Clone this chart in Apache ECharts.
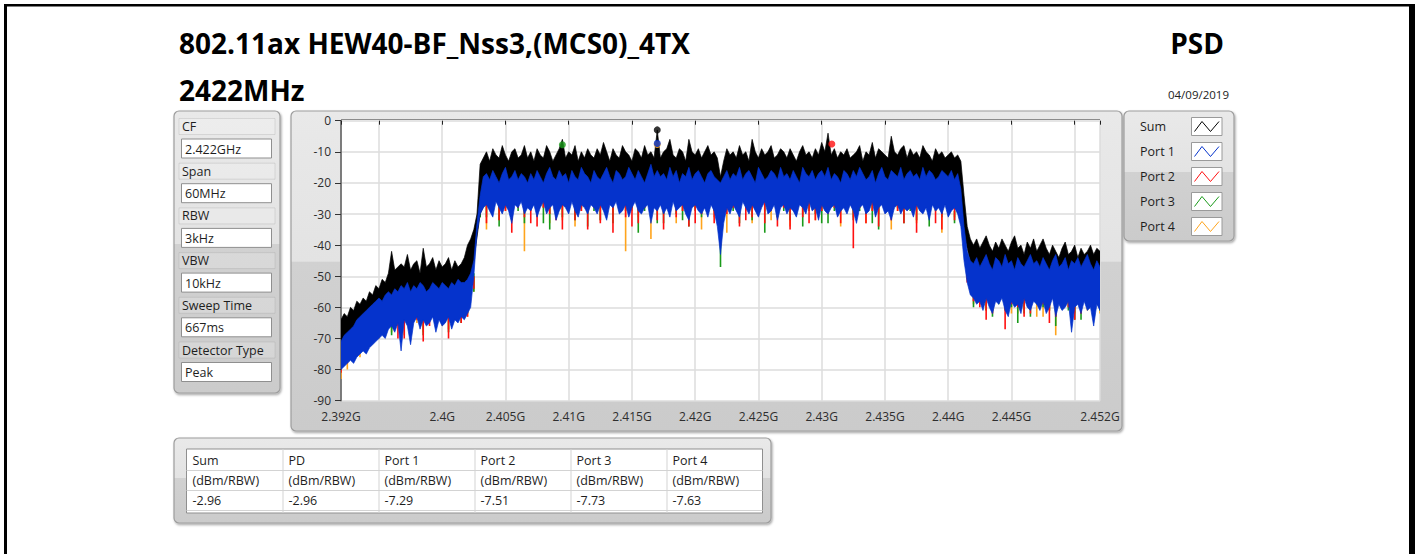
<!DOCTYPE html>
<html><head><meta charset="utf-8">
<script src="https://cdn.jsdelivr.net/npm/echarts@6/dist/echarts.min.js"></script>
<style>html,body{margin:0;padding:0;background:#fff;}#c{width:1415px;height:554px;}</style>
</head><body><div id="c"></div>
<script>
// ---------- DATA (dBm/RBW) ----------
const freqStartGHz = 2.392;
const step025 = 0.00025;  // 0.25 MHz sampling
const step05 = 0.0005;    // 0.5 MHz sampling
const step1 = 0.001;      // 1 MHz sampling

// Sum: upper envelope (0.25 MHz) and lower edge (1 MHz)
const sumUpper = [
-64,-62,-63,-60,-61,-58,-59,-57,-58,-55,-56,-53,-54,-51,-52,-49,-42,-48,-47,-46,
-47,-43,-48,-46,-45,-49,-41,-47,-46,-44,-48,-45,-47,-46,-44,-48,-45,-47,-46,-44,
-40,-38,-35,-30,-14,-12,-10,-13,-9,-11,-12,-8,-11,-13,-10,-9,-12,-11,-8,-12,
-10,-13,-9,-11,-12,-8,-10,-13,-11,-9,-6,-12,-10,-11,-8,-13,-10,-12,-9,-11,
-12,-9,-11,-7,-10,-13,-9,-11,-12,-8,-10,-11,-13,-9,-10,-12,-8,-11,-10,-12,
-2.96,-12,-10,-9,-6,-11,-12,-9,-10,-13,-6,-10,-11,-9,-12,-10,-8,-11,-10,-12,
-18,-13,-9,-11,-10,-12,-8,-11,-10,-13,-6,-10,-12,-9,-11,-10,-8,-12,-11,-9,
-10,-12,-9,-11,-13,-10,-8,-11,-10,-12,-9,-11,-7,-10,-4,-11,-9,-12,-10,-11,
-9,-12,-11,-10,-8,-13,-10,-11,-7,-12,-9,-10,-11,-12,-5,-10,-11,-9,-8,-12,
-9,-11,-10,-12,-8,-10,-11,-13,-9,-11,-10,-12,-11,-10,-12,-11,-13,-24,-34,-38,
-40,-38,-41,-39,-37,-40,-42,-39,-41,-38,-40,-42,-39,-37,-41,-40,-43,-39,-41,-38,
-42,-40,-38,-41,-43,-40,-42,-44,-41,-39,-43,-42,-40,-44,-41,-43,-42,-40,-43,-41,
-42];
const sumLower = [
-73,-71,-68,-66,-62,-59,-58,-58,-57,-57,-60,-30,
-21,-20,-22,-21,-20,-21,-22,-20,-21,-21,-20,-22,-21,-20,-21,-22,-20,-21,-21,-20,
-22,-21,-20,-21,-22,-20,-21,-21,-20,-22,-21,-20,-21,-22,-20,-21,-21,
-32,-50,-49,-51,-50,-49,-50,-51,-50,-49,-50,-51];

// Port 1: upper and lower envelopes (0.25 MHz)
const port1Upper = [
-71,-69,-68,-67,-66,-64,-63,-62,-61,-60,-59,-58,-57,-58,-56,-55,-56,-54,-55,-53,
-54,-52,-55,-53,-54,-52,-53,-55,-54,-52,-53,-54,-52,-53,-54,-52,-53,-51,-52,-52,
-51,-49,-45,-33,-24,-18,-17,-19,-16,-18,-20,-17,-15,-19,-18,-16,-19,-17,-18,-20,
-17,-19,-16,-18,-20,-17,-15,-18,-19,-16,-18,-17,-20,-16,-18,-19,-15,-17,-18,-20,
-16,-18,-19,-17,-15,-18,-20,-16,-17,-19,-18,-15,-17,-19,-16,-18,-20,-17,-14,-18,
-16,-18,-17,-19,-15,-18,-16,-20,-17,-18,-15,-19,-17,-16,-18,-20,-17,-16,-18,-19,
-20,-18,-16,-19,-17,-18,-15,-19,-17,-16,-18,-20,-15,-17,-19,-18,-16,-17,-19,-15,
-18,-17,-19,-16,-18,-20,-15,-17,-18,-16,-19,-17,-16,-18,-15,-19,-17,-18,-20,-16,
-17,-19,-16,-18,-15,-17,-19,-18,-16,-20,-17,-15,-18,-19,-16,-17,-18,-15,-19,-17,
-16,-18,-17,-19,-15,-18,-16,-17,-19,-18,-16,-17,-18,-16,-19,-17,-22,-34,-42,-45,
-46,-44,-47,-45,-43,-46,-48,-44,-45,-47,-43,-46,-45,-48,-44,-46,-47,-45,-43,-46,
-45,-47,-44,-46,-48,-45,-43,-47,-46,-44,-48,-45,-46,-44,-47,-45,-43,-46,-48,-45,
-47];
const port1Lower = [
-80,-79,-78,-77,-78,-76,-75,-74,-75,-73,-72,-71,-70,-69,-70,-67,-66,-68,-65,-74,
-64,-66,-72,-65,-63,-67,-64,-66,-65,-63,-68,-64,-66,-65,-63,-67,-64,-65,-63,-64,
-62,-60,-50,-36,-30,-28,-27,-29,-31,-26,-28,-30,-27,-29,-33,-27,-28,-26,-30,-28,
-29,-27,-31,-28,-26,-30,-28,-27,-32,-29,-27,-28,-30,-26,-29,-31,-27,-28,-30,-27,
-28,-30,-27,-29,-32,-27,-28,-26,-30,-29,-27,-31,-28,-26,-29,-30,-28,-27,-33,-28,
-29,-27,-30,-28,-31,-26,-29,-28,-27,-30,-32,-28,-27,-29,-30,-28,-31,-27,-29,-34,
-43,-33,-28,-30,-27,-29,-31,-26,-28,-30,-27,-29,-31,-28,-26,-30,-29,-27,-32,-28,
-27,-30,-28,-29,-31,-27,-28,-30,-26,-29,-28,-32,-27,-29,-30,-28,-27,-31,-29,-28,
-30,-27,-29,-33,-28,-27,-30,-29,-26,-31,-28,-27,-30,-29,-32,-28,-27,-30,-28,-29,
-28,-31,-27,-29,-30,-28,-32,-27,-29,-28,-30,-27,-31,-29,-28,-30,-34,-45,-52,-56,
-57,-59,-58,-61,-57,-60,-62,-58,-59,-57,-61,-63,-58,-60,-59,-62,-57,-60,-61,-58,
-59,-61,-58,-62,-60,-57,-63,-59,-61,-60,-58,-68,-60,-59,-62,-58,-61,-60,-66,-59,
-61];

// Ports 2-4: upper level (1 MHz) and downward excursions (0.5 MHz)
const port2Upper = [
-73,-70,-66,-62,-59,-57,-56,-56,-55,-55,-54,-26,
-21,-22,-20,-21,-22,-21,-20,-22,-21,-21,-22,-20,-21,-22,-21,-20,-21,-22,-21,-20,
-22,-21,-21,-20,-22,-21,-20,-21,-22,-21,-20,-21,-22,-21,-21,-20,-22,
-28,-47,-48,-46,-47,-48,-47,-46,-48,-47,-46,-48];
const port3Upper = [
-74,-71,-67,-63,-60,-58,-57,-56,-56,-55,-55,-27,
-22,-21,-21,-20,-22,-21,-22,-20,-21,-22,-21,-21,-20,-22,-21,-22,-20,-21,-21,-22,
-20,-21,-22,-21,-20,-22,-21,-21,-20,-22,-21,-22,-20,-21,-21,-22,-21,
-29,-48,-47,-47,-48,-46,-48,-47,-47,-46,-48,-47];
const port4Upper = [
-75,-71,-68,-63,-60,-58,-57,-57,-56,-56,-55,-27,
-21,-21,-22,-20,-21,-22,-21,-20,-22,-21,-21,-22,-20,-21,-22,-21,-21,-20,-22,-21,
-21,-22,-20,-21,-21,-22,-21,-20,-22,-21,-21,-20,-22,-21,-20,-21,-22,
-29,-47,-48,-47,-46,-48,-47,-48,-46,-47,-48,-47];
const port2Lower = [
-81,-78,-76,-74,-71,-70,-69,-67,-66,-70,-70,-65,-64,-71,-66,-63,-65,-70,-64,-65,
-63,-50,-30,-33,-28,-32,-29,-36,-28,-31,-33,-34,-28,-30,-32,-35,-28,-32,-29,-35,
-28,-33,-29,-36,-28,-31,-34,-33,-28,-30,-32,-35,-28,-31,-29,-34,-33,-30,-29,-33,
-40,-30,-28,-34,-32,-31,-28,-33,-29,-34,-28,-35,-29,-31,-33,-32,-29,-30,-28,-33,
-29,-41,-28,-33,-29,-34,-28,-32,-29,-33,-28,-36,-29,-31,-33,-35,-29,-32,-33,-52,
-58,-60,-64,-62,-58,-67,-59,-60,-63,-62,-58,-59,-65,-63,-59,-60,-64,-62,-59,-64,
-60];
const port3Lower = [
-78,-77,-75,-73,-71,-70,-68,-67,-69,-65,-64,-66,-63,-69,-64,-62,-65,-68,-64,-65,
-62,-49,-31,-31,-29,-34,-28,-32,-29,-33,-28,-29,-33,-35,-28,-31,-29,-32,-28,-34,
-29,-32,-28,-33,-29,-29,-28,-36,-29,-31,-33,-33,-29,-30,-32,-34,-29,-31,-28,-29,
-47,-28,-29,-33,-28,-32,-29,-36,-28,-31,-29,-32,-28,-34,-29,-30,-33,-33,-29,-29,
-28,-32,-29,-30,-33,-35,-29,-29,-28,-33,-29,-32,-28,-34,-29,-31,-28,-33,-31,-50,
-60,-58,-61,-63,-59,-61,-60,-65,-62,-63,-59,-60,-61,-66,-60,-61,-64,-64,-60,-60,
-61];
const port4Lower = [
-83,-80,-77,-76,-72,-70,-70,-68,-68,-66,-69,-66,-65,-68,-64,-63,-66,-67,-64,-62,
-63,-50,-31,-35,-28,-32,-29,-30,-28,-42,-29,-31,-28,-33,-29,-32,-28,-34,-29,-29,
-28,-32,-29,-30,-28,-42,-29,-31,-28,-38,-29,-30,-28,-33,-29,-29,-28,-35,-29,-31,
-36,-36,-28,-30,-29,-33,-28,-29,-32,-31,-28,-34,-29,-30,-28,-32,-29,-29,-28,-34,
-29,-31,-28,-33,-29,-30,-28,-35,-29,-31,-28,-33,-29,-30,-28,-36,-29,-31,-32,-51,
-59,-59,-61,-61,-58,-58,-62,-62,-60,-60,-63,-63,-61,-69,-60,-60,-62,-62,-61,-61,
-62];

const seriesNames = ['Sum', 'Port 1', 'Port 2', 'Port 3', 'Port 4'];
// peak markers: frequency (GHz) and level (dBm/RBW)
const peakFreqGHz = [2.417, 2.417, 2.4308, 2.4095, 2.417];
const peakLevels = [-2.96, -7.29, -7.51, -7.73, -7.63];

const xTickValues = [2.392, 2.395, 2.4, 2.405, 2.41, 2.415, 2.42, 2.425, 2.43, 2.435, 2.44, 2.445, 2.45, 2.452];
const xLabelValues = [2.392, 2.4, 2.405, 2.41, 2.415, 2.42, 2.425, 2.43, 2.435, 2.44, 2.445, 2.452];
const yMin = -90, yMax = 0, yStep = 10;

const titleLine1 = '802.11ax HEW40-BF_Nss3,(MCS0)_4TX';
const titleLine2 = '2422MHz';
const titleRight = 'PSD';
const dateText = '04/09/2019';

const paramLabels = ['CF', 'Span', 'RBW', 'VBW', 'Sweep Time', 'Detector Type'];
const paramValues = ['2.422GHz', '60MHz', '3kHz', '10kHz', '667ms', 'Peak'];

const tableHeaders = ['Sum', 'PD', 'Port 1', 'Port 2', 'Port 3', 'Port 4'];
const tableUnits = ['(dBm/RBW)', '(dBm/RBW)', '(dBm/RBW)', '(dBm/RBW)', '(dBm/RBW)', '(dBm/RBW)'];
const tableValues = ['-2.96', '-2.96', '-7.29', '-7.51', '-7.73', '-7.63'];

// ---------- STYLE ----------
const COLORS = {'Sum': '#000000', 'Port 1': '#0533cc', 'Port 2': '#ff1010', 'Port 3': '#1a9a1a', 'Port 4': '#ffa41c'};
const FONT = '"Open Sans", "Noto Sans", sans-serif';
const TXT = '#1e1e1e';
const SMALL = '12.5px ' + FONT;

const fAt = (i, step) => +(freqStartGHz + i * step).toFixed(5);

// band series: polygon between an upper and a lower envelope, placed with api.coord
function bandSeries(name, upper, upStep, lower, lowStep, z) {
  const color = COLORS[name];
  return {
    type: 'custom', name, z, silent: true, animation: false, clip: true,
    data: [[fAt(0, upStep), upper[0]]],
    renderItem: (params, api) => {
      const pts = [];
      upper.forEach((v, i) => pts.push(api.coord([fAt(i, upStep), v])));
      for (let i = lower.length - 1; i >= 0; i--) pts.push(api.coord([fAt(i, lowStep), lower[i]]));
      return {type: 'polygon', shape: {points: pts}, style: {fill: color, stroke: color, lineWidth: 0.7}};
    }
  };
}
// spike series: vertical strokes from the port's level down to each excursion sample
function spikeSeries(name, upper, upStep, lower, lowStep, z) {
  const color = COLORS[name];
  const data = lower.map((v, j) => {
    const pos = j * lowStep / upStep;
    const k0 = Math.min(upper.length - 1, Math.floor(pos));
    const k1 = Math.min(upper.length - 1, Math.ceil(pos));
    return [fAt(j, lowStep), v, Math.min(upper[k0], upper[k1])];
  });
  return {
    type: 'custom', name, z, silent: true, animation: false, clip: true,
    encode: {x: 0, y: [1, 2]},
    data,
    renderItem: (params, api) => {
      const a = api.coord([api.value(0), api.value(2)]);
      const b = api.coord([api.value(0), api.value(1)]);
      return {type: 'line', shape: {x1: a[0], y1: a[1], x2: b[0], y2: b[1]},
        style: {stroke: color, lineWidth: 1.6}};
    }
  };
}

const series = [
  spikeSeries('Port 4', port4Upper, step1, port4Lower, step05, 10),
  spikeSeries('Port 3', port3Upper, step1, port3Lower, step05, 11),
  spikeSeries('Port 2', port2Upper, step1, port2Lower, step05, 12),
  bandSeries('Sum', sumUpper, step025, sumLower, step1, 13),
  bandSeries('Port 1', port1Upper, step025, port1Lower, step025, 14)
];
['Port 4', 'Port 2', 'Port 3', 'Port 1', 'Sum'].forEach((name, k) => {
  const idx = seriesNames.indexOf(name);
  series.push({
    name: name + ' peak', type: 'scatter', symbol: 'circle', symbolSize: 7,
    data: [[peakFreqGHz[idx], peakLevels[idx]]], z: 30 + k, silent: true, animation: false,
    itemStyle: {color: COLORS[name]}
  });
});

// ---------- GRAPHIC (panels, texts) ----------
function panelFill() {
  return {type: 'linear', x: 0, y: 0, x2: 0, y2: 1, colorStops: [
    {offset: 0, color: '#e9e9e9'}, {offset: 0.47, color: '#e3e3e3'},
    {offset: 0.471, color: '#d1d1d1'}, {offset: 1, color: '#cbcbcb'}]};
}
function panel(x, y, w, h) {
  return {type: 'rect', z: 1, shape: {x, y, width: w, height: h, r: 5},
    style: {fill: panelFill(), stroke: '#9d9d9d', lineWidth: 1.2,
      shadowBlur: 2, shadowColor: 'rgba(0,0,0,0.35)', shadowOffsetX: 1, shadowOffsetY: 1.5}};
}
function text(t, x, y, opt) {
  return {type: 'text', z: 6, style: Object.assign({
    text: t, x, y, fill: TXT, font: SMALL, textAlign: 'left', textVerticalAlign: 'middle'}, opt || {})};
}
const g = [];
// page frame
g.push({type: 'rect', z: 50, shape: {x: 4, y: 4, width: 1411, height: 2.5}, style: {fill: '#000'}});
g.push({type: 'rect', z: 50, shape: {x: 4, y: 4, width: 3, height: 550}, style: {fill: '#000'}});
g.push({type: 'rect', z: 50, shape: {x: 1409, y: 4, width: 6, height: 550}, style: {fill: '#000'}});
// titles
g.push(text(titleLine1, 179, 43, {font: 'bold 28px ' + FONT, fill: '#000'}));
g.push(text(titleLine2, 179, 90, {font: 'bold 28px ' + FONT, fill: '#000'}));
g.push(text(titleRight, 1224, 43, {font: 'bold 28px ' + FONT, fill: '#000', textAlign: 'right'}));
g.push(text(dateText, 1229, 94, {font: '11.5px ' + FONT, fill: '#222', textAlign: 'right'}));

// parameter panel
g.push(panel(174, 111, 106, 282));
paramLabels.forEach((lab, i) => {
  const cy = 126.5 + i * 44.7;
  g.push({type: 'rect', z: 2, shape: {x: 179, y: cy - 8, width: 96, height: 16},
    style: {fill: 'rgba(255,255,255,0.18)', stroke: 'rgba(150,150,150,0.25)', lineWidth: 1}});
  g.push(text(lab, 182, cy));
  const by = cy + 12.5;
  g.push({type: 'rect', z: 3, shape: {x: 181.5, y: by, width: 90, height: 19},
    style: {fill: '#ffffff', stroke: '#8f8f8f', lineWidth: 1}});
  g.push(text(paramValues[i], 185, by + 10));
});

// graph panel + plot background
g.push(panel(291, 111, 831, 320));
g.push({type: 'rect', z: 2, shape: {x: 341, y: 119, width: 759, height: 282}, style: {fill: '#ffffff'}});
g.push({type: 'line', z: 8, shape: {x1: 341, y1: 119.5, x2: 1100, y2: 119.5}, style: {stroke: '#8c8c8c', lineWidth: 1}});

// legend panel
g.push(panel(1124, 111, 110, 130));
seriesNames.forEach((name, i) => {
  const cy = 126.5 + i * 25;
  g.push(text(name, 1140, cy));
  const bx = 1191.5, by = cy - 9;
  g.push({type: 'rect', z: 3, shape: {x: bx, y: by, width: 30.5, height: 18},
    style: {fill: '#ffffff', stroke: '#9a9a9a', lineWidth: 1}});
  g.push({type: 'polyline', z: 4, shape: {points: [[bx + 3, by + 14], [bx + 10.5, by + 4], [bx + 19, by + 14], [bx + 27.5, by + 4]]},
    style: {stroke: COLORS[name], lineWidth: 1, fill: null}});
});

// table panel
g.push(panel(174, 438, 597, 85));
const tx = 186.5, colW = 96, ty = 449;
g.push({type: 'rect', z: 3, shape: {x: tx, y: ty, width: colW * 6, height: 64},
  style: {fill: '#ffffff', stroke: '#8f8f8f', lineWidth: 1}});
[470.5, 490.5, 510.5].forEach(yy => g.push({type: 'line', z: 4,
  shape: {x1: tx, y1: yy, x2: tx + colW * 6, y2: yy}, style: {stroke: '#d3d3d3', lineWidth: 1}}));
for (let c = 1; c < 6; c++) {
  g.push({type: 'line', z: 4, shape: {x1: tx + c * colW + 0.5, y1: ty, x2: tx + c * colW + 0.5, y2: ty + 64},
    style: {stroke: '#d3d3d3', lineWidth: 1}});
}
[tableHeaders, tableUnits, tableValues].forEach((row, r) => {
  const cy = [460, 480.5, 500.5][r];
  row.forEach((t, c) => g.push(text(t, tx + c * colW + 6, cy)));
});

// ---------- CHART ----------
const chart = echarts.init(document.getElementById('c'), null, {renderer: 'svg', width: 1415, height: 554});
chart.setOption({
  animation: false,
  backgroundColor: '#ffffff',
  textStyle: {fontFamily: FONT},
  grid: {left: 341, top: 120.7, width: 759, height: 280, show: false},
  xAxis: {
    type: 'value', min: 2.392, max: 2.452, z: 5,
    axisLine: {show: false},
    axisTick: {show: true, customValues: xTickValues, length: 4, lineStyle: {color: '#222', width: 1}},
    axisLabel: {customValues: xLabelValues, color: '#2e2e2e', fontSize: 12, margin: 10, fontFamily: FONT,
      formatter: v => parseFloat(Number(v).toFixed(4)) + 'G'},
    splitLine: {show: true, lineStyle: {color: '#dcdcdc', width: 1.5}}
  },
  yAxis: {
    type: 'value', min: yMin, max: yMax, interval: yStep, z: 5,
    axisLine: {show: true, lineStyle: {color: '#5a5a5a', width: 1.5}},
    axisTick: {show: true, length: 6, lineStyle: {color: '#333', width: 1}},
    axisLabel: {color: '#2e2e2e', fontSize: 12, margin: 10, fontFamily: FONT},
    splitLine: {show: true, lineStyle: {color: '#dcdcdc', width: 1.5}}
  },
  series: series,
  graphic: {elements: g}
});
</script></body></html>
